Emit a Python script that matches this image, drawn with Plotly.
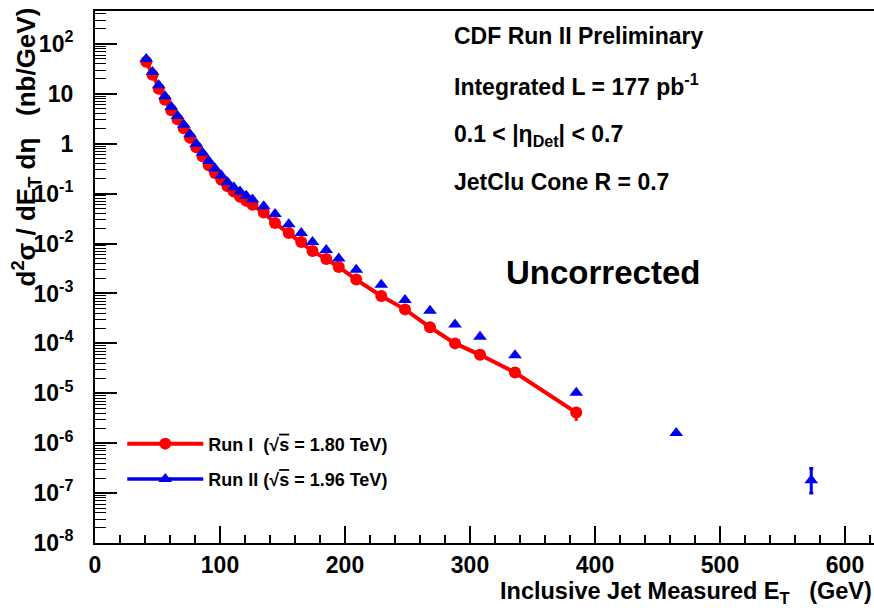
import plotly.graph_objects as go

# ---- data ----
et_run1 = [41, 46, 51, 56, 61, 66, 71, 76, 81, 86, 91, 96, 101, 106, 111, 116, 121, 126,
           135, 144, 155, 165, 174, 185, 195, 209, 229, 248, 268, 288, 308, 336, 385]
xs_run1 = [44, 24, 12.6, 7.6, 4.7, 3.1, 2.05, 1.32, 0.85, 0.56, 0.37, 0.26, 0.19, 0.14,
           0.11, 0.087, 0.072, 0.060, 0.042, 0.0257, 0.0162, 0.0107, 0.0071, 0.0049,
           0.0034, 0.0019, 8.9e-4, 4.8e-4, 2.1e-4, 1.0e-4, 5.9e-5, 2.6e-5, 4.1e-6]
err_run1_up = [0] * 32 + [1.0e-6]
err_run1_dn = [0] * 32 + [1.3e-6]

et_run2 = [41, 46, 51, 56, 61, 66, 71, 76, 81, 86, 91, 96, 101, 106, 111, 116, 121, 126,
           135, 144, 155, 165, 174, 185, 195, 209, 229, 248, 268, 288, 308, 336, 385,
           465, 573]
xs_run2 = [50, 27.5, 14.8, 8.9, 5.5, 3.6, 2.4, 1.55, 1.0, 0.66, 0.45, 0.32, 0.23, 0.17,
           0.135, 0.11, 0.091, 0.076, 0.056, 0.039, 0.0245, 0.0162, 0.0107, 0.0074,
           0.0050, 0.0030, 0.0015, 7.4e-4, 4.5e-4, 2.4e-4, 1.35e-4, 5.8e-5, 1.02e-5,
           1.6e-6, 1.8e-7]
err_run2_up = [0] * 34 + [1.3e-7]
err_run2_dn = [0] * 34 + [0.8e-7]

y_tickvals = [1e-8, 1e-7, 1e-6, 1e-5, 1e-4, 1e-3, 1e-2, 1e-1, 1, 10, 100]
y_ticktext = ["10<sup>-8</sup>", "10<sup>-7</sup>", "10<sup>-6</sup>", "10<sup>-5</sup>",
              "10<sup>-4</sup>", "10<sup>-3</sup>", "10<sup>-2</sup>", "10<sup>-1</sup>",
              "1", "10", "10<sup>2</sup>"]
y_minor = [m * 10.0 ** k for k in range(-8, 3) for m in range(2, 10)]

FONT = "Liberation Sans"
RED = "#ff0000"
BLUE = "#0000ee"

fig = go.Figure()

fig.add_trace(go.Scatter(
    x=et_run1, y=xs_run1, mode="lines+markers",
    name="Run I\u00a0\u00a0(√<span style='text-decoration:overline'>s</span> = 1.80 TeV)",
    line=dict(color=RED, width=4),
    marker=dict(symbol="circle", size=12, color=RED),
    error_y=dict(type="data", array=err_run1_up, arrayminus=err_run1_dn,
                 color=RED, thickness=3, width=0),
    legendgroup="a",
))
fig.add_trace(go.Scatter(
    x=et_run2, y=xs_run2, mode="markers", showlegend=False,
    marker=dict(symbol="triangle-up", size=12, color=BLUE),
    error_y=dict(type="data", array=err_run2_up, arrayminus=err_run2_dn,
                 color=BLUE, thickness=3, width=2),
    legendgroup="b",
))
# legend entry for Run II (line + marker as in the original legend)
fig.add_trace(go.Scatter(
    x=[None], y=[None], mode="lines+markers",
    name="Run II (√<span style='text-decoration:overline'>s</span> = 1.96 TeV)",
    line=dict(color=BLUE, width=3.5),
    marker=dict(symbol="triangle-up", size=12, color=BLUE),
    legendgroup="b",
))

fig.update_layout(
    width=874, height=608,
    margin=dict(l=95, r=0, t=11, b=65),
    plot_bgcolor="white", paper_bgcolor="white",
    font=dict(family=FONT, color="black"),
    showlegend=True,
    legend=dict(x=0.035, y=0.221, xanchor="left", yanchor="top",
                bgcolor="rgba(0,0,0,0)", borderwidth=0,
                font=dict(family=FONT, size=18, weight="bold", color="black"),
                itemwidth=76, tracegroupgap=9, traceorder="grouped"),
    xaxis=dict(
        range=[0, 623.2], showline=True, linecolor="black", linewidth=2, mirror=True,
        ticks="inside", ticklen=17, tickwidth=1.5, tickcolor="black",
        tickmode="linear", tick0=0, dtick=100,
        tickfont=dict(family=FONT, size=23, weight="bold"),
        ticklabelstandoff=0,
        minor=dict(ticks="inside", ticklen=8, tickwidth=1.5, tickcolor="black",
                   dtick=20, tick0=0, showgrid=False),
        showgrid=False, zeroline=False,
    ),
    yaxis=dict(
        type="log", range=[-8, 2.66], showline=True, linecolor="black", linewidth=2,
        mirror=False,
        ticks="inside", ticklen=22, tickwidth=1.5, tickcolor="black",
        tickmode="array", tickvals=y_tickvals, ticktext=y_ticktext,
        tickfont=dict(family=FONT, size=23, weight="bold"),
        ticklabelstandoff=15,
        minor=dict(ticks="inside", ticklen=11, tickwidth=1.2, tickcolor="black",
                   tickmode="array", tickvals=y_minor, showgrid=False),
        showgrid=False, zeroline=False,
    ),
)

def px_x(p):
    return (p - 95) / 779.0

def px_y(p):
    return (543 - p) / 532.0

info = [
    ("CDF Run II Preliminary", 36),
    ("Integrated L = 177 pb<sup>-1</sup>", 85),
    ("0.1 &lt; |η<sub>Det</sub>| &lt; 0.7", 135),
    ("JetClu Cone R = 0.7", 182),
]
for txt, yy in info:
    fig.add_annotation(text=txt, xref="paper", yref="paper", x=px_x(452), y=px_y(yy),
                       xanchor="left", yanchor="middle", showarrow=False,
                       font=dict(family=FONT, size=23, weight="bold", color="black"))

fig.add_annotation(text="Uncorrected", xref="paper", yref="paper",
                   x=px_x(603), y=px_y(272), xanchor="center", yanchor="middle",
                   showarrow=False,
                   font=dict(family=FONT, size=33, weight="bold", color="black"))

fig.add_annotation(text="Inclusive Jet Measured E<sub>T</sub>\u00a0\u00a0\u00a0(GeV)",
                   xref="paper", yref="paper", x=1.0, y=px_y(592),
                   xanchor="right", yanchor="middle", showarrow=False,
                   font=dict(family=FONT, size=23.5, weight="bold", color="black"))

fig.add_annotation(text="d<sup>2</sup>σ / dE<sub>T</sub> dη\u00a0\u00a0\u00a0(nb/GeV)",
                   xref="paper", yref="paper", x=px_x(26), y=px_y(6),
                   xanchor="center", yanchor="top", textangle=-90, showarrow=False,
                   font=dict(family=FONT, size=26, weight="bold", color="black"))

fig.write_html("out.html")
